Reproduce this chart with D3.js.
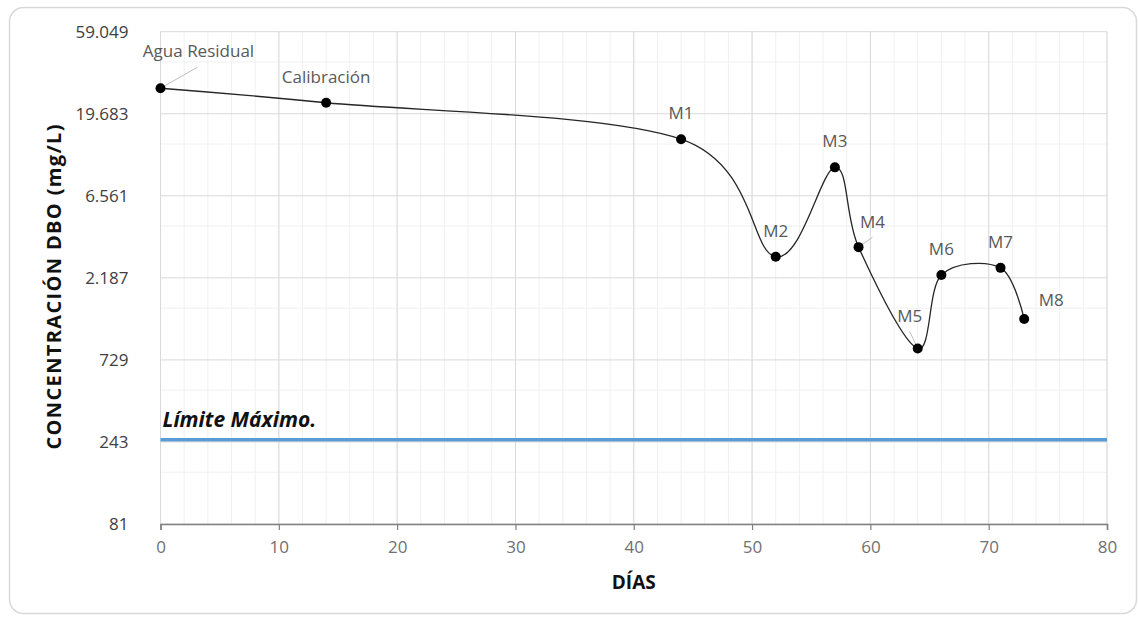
<!DOCTYPE html>
<html>
<head>
<meta charset="utf-8">
<script src="https://cdn.jsdelivr.net/npm/d3@7"></script>
<style>
  body { margin: 0; background: #fff; }
  svg { display: block; font-family: "Open Sans", sans-serif; }
</style>
</head>
<body>
<svg id="chart" width="1138" height="617"></svg>
<script>
// data
var days = [0, 14, 44, 52, 57, 59, 64, 66, 71, 73];
var dbo = [27700, 22800, 14000, 2900, 9600, 3300, 850, 2270, 2500, 1260];
var pointLabels = ["Agua Residual", "Calibración", "M1", "M2", "M3", "M4", "M5", "M6", "M7", "M8"];
var limite = 250;

var xTicks = [0, 10, 20, 30, 40, 50, 60, 70, 80];
var xMinor = [0, 2, 4, 6, 8, 10, 12, 14, 16, 18, 20, 22, 24, 26, 28, 30, 32, 34, 36, 38, 40,
              42, 44, 46, 48, 50, 52, 54, 56, 58, 60, 62, 64, 66, 68, 70, 72, 74, 76, 78, 80];
var yTicks = [81, 243, 729, 2187, 6561, 19683, 59049];
var yMinor = [162, 486, 1458, 4374, 13122, 39366];

// label placement relative to each point: [dx, dy]
var labelOffsets = [[38, -31], [0, -20], [0, -20], [0, -20], [0, -20],
                    [14, -19], [-8, -26], [0, -20], [0, -20], [27, -13]];
// leader lines: [point index, dx end, dy end]
var leaders = [[0, 37, -21], [5, 14, -10], [6, -8, -17]];

var svg = d3.select("#chart");

svg.append("rect")
  .attr("x", 9.5).attr("y", 7.5)
  .attr("width", 1127).attr("height", 606)
  .attr("rx", 14)
  .attr("fill", "#fff")
  .attr("stroke", "#d9d9d9")
  .attr("stroke-width", 1.5);

var x = d3.scaleLinear().domain([0, 80]).range([160.5, 1107]);
var y = d3.scaleLog().base(3).domain([81, 59049]).range([524, 31.7]);

var es = d3.formatLocale({decimal: ",", thousands: ".", grouping: [3], currency: ["", ""]});
var fmt = es.format(",");

var g = svg.append("g");

// minor grid
g.selectAll(".xminor").data(xMinor).enter().append("line")
  .attr("x1", function(d) { return x(d); }).attr("x2", function(d) { return x(d); })
  .attr("y1", y(59049)).attr("y2", y(81))
  .attr("stroke", "#f0f0f0").attr("stroke-width", 1);

g.selectAll(".yminor").data(yMinor).enter().append("line")
  .attr("x1", x(0)).attr("x2", x(80))
  .attr("y1", function(d) { return y(d); }).attr("y2", function(d) { return y(d); })
  .attr("stroke", "#f0f0f0").attr("stroke-width", 1);

// major grid
g.selectAll(".xmajor").data(xTicks).enter().append("line")
  .attr("x1", function(d) { return x(d); }).attr("x2", function(d) { return x(d); })
  .attr("y1", y(59049)).attr("y2", y(81))
  .attr("stroke", "#d9d9d9").attr("stroke-width", 1);

g.selectAll(".ymajor").data(yTicks).enter().append("line")
  .attr("x1", x(0)).attr("x2", x(80))
  .attr("y1", function(d) { return y(d); }).attr("y2", function(d) { return y(d); })
  .attr("stroke", "#d9d9d9").attr("stroke-width", 1);

// x axis
var xAxis = svg.append("g")
  .attr("transform", "translate(0," + y(81) + ")")
  .call(d3.axisBottom(x).tickValues(xTicks).tickSize(6).tickPadding(11));
xAxis.select(".domain").attr("stroke", "#7f7f7f").attr("stroke-width", 1.5);
xAxis.selectAll(".tick line").attr("stroke", "#7f7f7f").attr("stroke-width", 1.2);
xAxis.selectAll(".tick text")
  .attr("font-family", "Open Sans").attr("font-size", 17).attr("fill", "#707070");

// y axis labels only
var yAxis = svg.append("g")
  .attr("transform", "translate(" + x(0) + ",0)")
  .call(d3.axisLeft(y).tickValues(yTicks).tickFormat(fmt).tickSize(0).tickPadding(32));
yAxis.select(".domain").remove();
yAxis.selectAll(".tick text")
  .attr("font-family", "Open Sans").attr("font-size", 17).attr("fill", "#404040");

// axis titles
svg.append("text")
  .attr("x", (x(0) + x(80)) / 2).attr("y", 589)
  .attr("text-anchor", "middle")
  .attr("font-size", 19).attr("font-weight", "bold").attr("fill", "#111")
  .text("DÍAS");

svg.append("text")
  .attr("transform", "translate(61," + 287 + ") rotate(-90)")
  .attr("text-anchor", "middle")
  .attr("font-size", 20).attr("font-weight", "bold").attr("fill", "#111")
  .attr("textLength", 325).attr("lengthAdjust", "spacing")
  .text("CONCENTRACIÓN DBO (mg/L)");

// limit line
svg.append("line")
  .attr("x1", x(0)).attr("x2", x(80))
  .attr("y1", y(limite)).attr("y2", y(limite))
  .attr("stroke", "#5b9bd5").attr("stroke-width", 3.5);

svg.append("text")
  .attr("x", x(0) + 2).attr("y", y(limite) - 13)
  .attr("font-size", 21).attr("font-weight", "bold").attr("font-style", "italic").attr("fill", "#111")
  .text("Límite Máximo.");

// series
var pts = days.map(function(d, i) { return [x(d), y(dbo[i])]; });

svg.append("path")
  .attr("d", d3.line().curve(d3.curveCardinal.tension(0))(pts))
  .attr("fill", "none")
  .attr("stroke", "#262626")
  .attr("stroke-width", 1.3);

svg.selectAll(".leader").data(leaders).enter().append("line")
  .attr("x1", function(d) { return pts[d[0]][0]; })
  .attr("y1", function(d) { return pts[d[0]][1]; })
  .attr("x2", function(d) { return pts[d[0]][0] + d[1]; })
  .attr("y2", function(d) { return pts[d[0]][1] + d[2]; })
  .attr("stroke", "#bfbfbf").attr("stroke-width", 1);

svg.selectAll(".dot").data(pts).enter().append("circle")
  .attr("cx", function(p) { return p[0]; })
  .attr("cy", function(p) { return p[1]; })
  .attr("r", 5)
  .attr("fill", "#000");

svg.selectAll(".plabel").data(pointLabels).enter().append("text")
  .attr("x", function(d, i) { return pts[i][0] + labelOffsets[i][0]; })
  .attr("y", function(d, i) { return pts[i][1] + labelOffsets[i][1]; })
  .attr("text-anchor", "middle")
  .attr("font-size", 17)
  .attr("fill", "#595959")
  .text(function(d) { return d; });
</script>
</body>
</html>
